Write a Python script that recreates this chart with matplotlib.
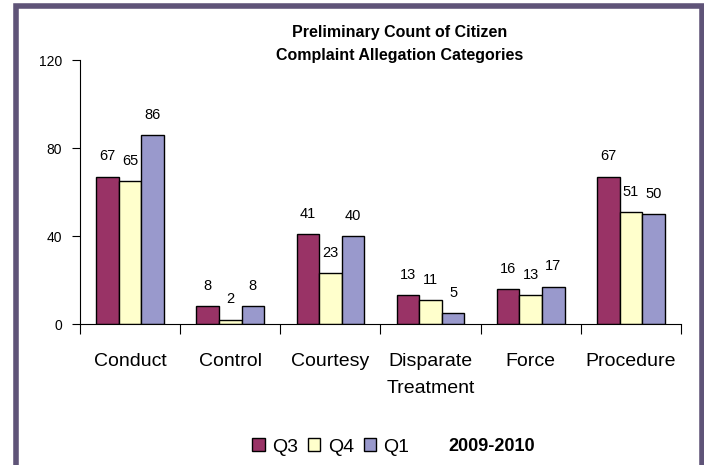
import numpy as np
import matplotlib
matplotlib.use('Agg')
import matplotlib.pyplot as plt
from matplotlib.patches import Patch, Rectangle

categories = ['Conduct', 'Control', 'Courtesy', 'Disparate\nTreatment', 'Force', 'Procedure']
q3 = [67, 8, 41, 13, 16, 67]
q4 = [65, 2, 23, 11, 13, 51]
q1 = [86, 8, 40, 5, 17, 50]
series_names = ['Q3', 'Q4', 'Q1']
colors = ['#993366', '#FFFFCC', '#9999CC']
yticks = [0, 40, 80, 120]

narrow = ['Liberation Sans Narrow', 'Liberation Sans', 'DejaVu Sans']
wide = ['Liberation Sans', 'DejaVu Sans']

fig = plt.figure(figsize=(7.04, 4.65), dpi=100)
ax = fig.add_axes([80 / 704, 1 - 324 / 465, 601 / 704, 264 / 465])

x = np.arange(len(categories))
width = 0.225
for i, (vals, name, col) in enumerate(zip([q3, q4, q1], series_names, colors)):
    pos = x + (i - 1) * width
    ax.bar(pos, vals, width, color=col, edgecolor='black', linewidth=1.0)
    for px, v in zip(pos, vals):
        ax.annotate(str(v), (px, v), xytext=(0, 9.5), textcoords='offset points',
                    ha='center', va='bottom', fontsize=10.5, family=narrow)

ax.set_xlim(-0.5, len(categories) - 0.5)
ax.set_ylim(0, 120)
ax.set_yticks(yticks)
ax.set_yticklabels([str(t) for t in yticks], fontsize=10, family=narrow)
ax.tick_params(axis='y', direction='out', length=6, width=0.8, pad=7)

# category boundaries carry the tick marks, labels sit between them
ax.set_xticks(np.arange(-0.5, len(categories)), minor=True)
ax.set_xticks(x)
ax.set_xticklabels(categories, fontsize=14, family=narrow, linespacing=1.75)
ax.tick_params(axis='x', which='major', length=0, pad=21)
ax.tick_params(axis='x', which='minor', direction='out', length=7, width=0.8)

for side in ['top', 'right']:
    ax.spines[side].set_visible(False)
for side in ['left', 'bottom']:
    ax.spines[side].set_linewidth(0.8)

fig.text(400 / 704, 1 - 44 / 465, 'Preliminary Count of Citizen\nComplaint Allegation Categories',
         ha='center', va='center', fontsize=11.5, fontweight='bold', family=wide, linespacing=1.65)

handles = [Patch(facecolor=c, edgecolor='black', linewidth=1.0) for c in colors]
fig.legend(handles, series_names, loc='center', bbox_to_anchor=(331 / 704, 1 - 447 / 465),
           ncol=3, frameon=False, prop={'family': narrow, 'size': 14},
           handlelength=0.62, handleheight=0.62, handletextpad=0.4, columnspacing=0.5,
           borderpad=0)
fig.text(492 / 704, 1 - 446 / 465, '2009-2010', ha='center', va='center',
         fontsize=13, fontweight='bold', family=wide)

# purple frame, bottom edge runs off the picture
fig.patches.append(Rectangle((15.5 / 704, -0.1), 686 / 704, 1.1 - 6.5 / 465,
                             transform=fig.transFigure, fill=False,
                             edgecolor='#5f5478', linewidth=4))

fig.savefig('out.png', dpi=100)
